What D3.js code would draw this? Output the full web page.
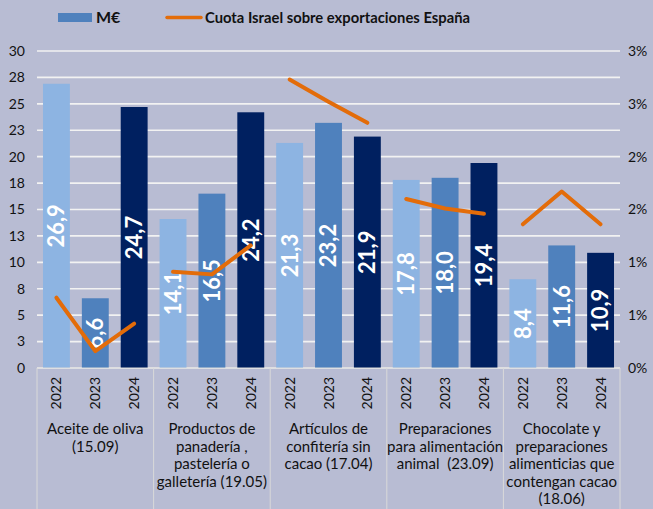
<!DOCTYPE html>
<html><head><meta charset="utf-8">
<script src="https://cdn.jsdelivr.net/npm/d3@7"></script>
<style>
html,body{margin:0;padding:0;background:#B8BCD3;}
svg{display:block;font-family:Lato,"DejaVu Sans",sans-serif;}
text{white-space:pre;}
</style></head>
<body><svg id="c" width="653" height="509"></svg>
<script>
const categories = ["Aceite de oliva (15.09)","Productos de panadería , pastelería o galletería (19.05)","Artículos de confitería sin cacao (17.04)","Preparaciones para alimentación animal  (23.09)","Chocolate y preparaciones alimenticias que contengan cacao (18.06)"];
const categoryLines = [
  ["Aceite de oliva","(15.09)"],
  ["Productos de","panadería ,","pastelería o","galletería (19.05)"],
  ["Artículos de","confitería sin","cacao (17.04)"],
  ["Preparaciones","para alimentación","animal  (23.09)"],
  ["Chocolate y","preparaciones","alimenticias que","contengan cacao","(18.06)"]
];
const years = ["2022","2023","2024"];
const valuesMEUR = [
  [26.9, 6.6, 24.7],
  [14.1, 16.5, 24.2],
  [21.3, 23.2, 21.9],
  [17.8, 18.0, 19.4],
  [8.4, 11.6, 10.9]
];
const sharePct = [
  [0.665, 0.16, 0.42],
  [0.91, 0.886, 1.16],
  [2.73, 2.52, 2.32],
  [1.60, 1.51, 1.46],
  [1.36, 1.67, 1.36]
];
const leftTicks = [0,2.5,5,7.5,10,12.5,15,17.5,20,22.5,25,27.5,30];
const rightTicks = [0,0.5,1,1.5,2,2.5,3];
const legendLabels = ["M€","Cuota Israel sobre exportaciones España"];

const yearColors = {"2022":"#8DB4E2","2023":"#4F81BD","2024":"#002060"};
const lineColor = "#E36C09";
const textColor = "#111111";

const svg = d3.select("#c");
const L = 37, R = 620, T = 51, B = 368;

const x0 = d3.scaleBand().domain(categories).range([L, R]).padding(0);
const x1 = d3.scaleBand().domain(years).range([0, x0.bandwidth()]).paddingInner(0.308).paddingOuter(0.154);
const y = d3.scaleLinear().domain([0,30]).range([B, T]);
const y2 = d3.scaleLinear().domain([0,3]).range([B, T]);

// gridlines
svg.append("g").selectAll("line").data(leftTicks).join("line")
  .attr("x1", L).attr("x2", R)
  .attr("y1", d=>y(d)).attr("y2", d=>y(d))
  .attr("stroke", "#F2F2F2").attr("stroke-width", 1.6);

// left axis labels
svg.append("g").selectAll("text").data(leftTicks).join("text")
  .attr("x", 25).attr("y", d=>y(d)).attr("dy","0.35em")
  .attr("text-anchor","end").attr("font-size",14).attr("fill",textColor)
  .text(d=>String(Math.round(d + 0.001)));

// right axis labels
svg.append("g").selectAll("text").data(rightTicks).join("text")
  .attr("x", 628).attr("y", d=>y2(d)).attr("dy","0.35em")
  .attr("text-anchor","start").attr("font-size",14).attr("fill",textColor)
  .text(d=>Math.round(d + 0.001) + "%");

// bars
const gCat = svg.append("g").selectAll("g").data(categories).join("g")
  .attr("transform", d=>`translate(${x0(d)},0)`);
gCat.selectAll("rect").data((d,i)=>years.map((yr,j)=>({yr, v: valuesMEUR[i][j]}))).join("rect")
  .attr("x", d=>x1(d.yr)).attr("width", x1.bandwidth())
  .attr("y", d=>y(d.v)).attr("height", d=>y(0)-y(d.v))
  .attr("fill", d=>yearColors[d.yr]);

// value labels
gCat.selectAll("text.val").data((d,i)=>years.map((yr,j)=>({yr, v: valuesMEUR[i][j]}))).join("text")
  .attr("class","val")
  .attr("transform", d=>`translate(${x1(d.yr)+x1.bandwidth()/2},${(y(d.v)+y(0))/2}) rotate(-90)`)
  .attr("text-anchor","middle").attr("dy","0.36em")
  .attr("font-size",22).attr("font-weight","bold").attr("fill","#FFFFFF")
  .text(d=>d3.format(".1f")(d.v).replace(".",","));

// axis lines and separators
svg.append("line").attr("x1",L).attr("x2",R).attr("y1",B).attr("y2",B).attr("stroke","#D9D9D9").attr("stroke-width",1);
const seps = categories.map(c=>x0(c)).concat([R]);
svg.append("g").selectAll("line").data(seps).join("line")
  .attr("x1",d=>d).attr("x2",d=>d).attr("y1",B).attr("y2",509)
  .attr("stroke","#D9D9D9").attr("stroke-width",1);

// year labels
gCat.selectAll("text.yr").data(years).join("text")
  .attr("class","yr")
  .attr("transform", d=>`translate(${x1(d)+x1.bandwidth()/2},377) rotate(-90)`)
  .attr("text-anchor","end").attr("dy","0.36em")
  .attr("font-size",14).attr("fill",textColor)
  .text(d=>d);

// category labels
gCat.each(function(d,i){
  const t = d3.select(this).append("text")
    .attr("text-anchor","middle").attr("font-size",15).attr("fill",textColor);
  categoryLines[i].forEach((ln,k)=>{
    t.append("tspan").attr("x", x0.bandwidth()/2).attr("y", 434 + k*17.6).text(ln);
  });
});

// line series (per category)
const line = d3.line().x(d=>d.x).y(d=>y2(d.v));
categories.forEach((c,i)=>{
  const pts = years.map((yr,j)=>({x: x0(c)+x1(yr)+x1.bandwidth()/2, v: sharePct[i][j]}));
  svg.append("path").datum(pts).attr("d", line)
    .attr("fill","none").attr("stroke",lineColor).attr("stroke-width",4)
    .attr("stroke-linecap","round").attr("stroke-linejoin","round");
});

// legend
const lg = svg.append("g");
lg.append("rect").attr("x",58).attr("y",13).attr("width",34).attr("height",9).attr("fill","#4F81BD");
lg.append("text").attr("x",96).attr("y",23).attr("font-size",16).attr("font-weight","bold").attr("fill",textColor).text(legendLabels[0]);
lg.append("line").attr("x1",167).attr("x2",201).attr("y1",17.5).attr("y2",17.5).attr("stroke",lineColor).attr("stroke-width",3.5).attr("stroke-linecap","round");
lg.append("text").attr("x",205).attr("y",23).attr("font-size",16).attr("font-weight","bold").attr("fill",textColor)
  .attr("textLength",265).attr("lengthAdjust","spacingAndGlyphs").text(legendLabels[1]);
</script>
</body></html>
